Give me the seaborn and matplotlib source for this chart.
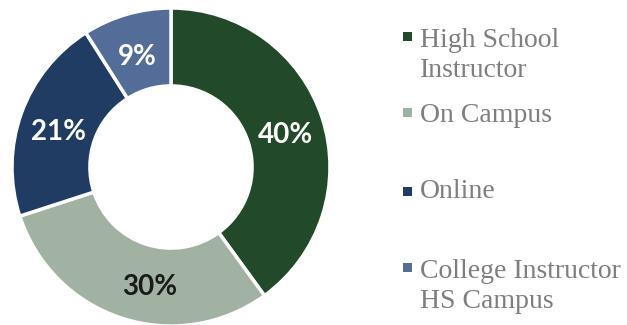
import matplotlib
matplotlib.use("Agg")
import matplotlib.pyplot as plt
from matplotlib.patches import Rectangle
import seaborn as sns

categories = ["High School\nInstructor", "On Campus", "Online", "College Instructor\nHS Campus"]
values = [40, 30, 21, 9]
colors = ["#22492A", "#A1B1A2", "#213C62", "#546C98"]
label_colors = ["white", "#1A1A1A", "white", "white"]

sns.set_theme(style="white")

W, H = 627, 325
fig = plt.figure(figsize=(W / 100, H / 100), dpi=100)
fig.patch.set_facecolor("white")

cx, cy, r = 171, 167, 159
ax = fig.add_axes([(cx - r) / W, (H - cy - r) / H, 2 * r / W, 2 * r / H])
ax.set_facecolor("none")

wedges, texts, autotexts = ax.pie(
    values, colors=colors, startangle=90, counterclock=False,
    radius=1.0, labels=None,
    autopct=lambda p: f"{p:.0f}%", pctdistance=0.755,
    wedgeprops=dict(width=0.49, edgecolor="white", linewidth=2.5),
    textprops=dict(fontsize=20, fontweight="bold", family=["Lato", "DejaVu Sans"]),
)
for i, (t, c) in enumerate(zip(autotexts, label_colors)):
    t.set_color(c)
    x0, y0 = t.get_position()
    dx = 0.1 if i == 1 else 0.0  # "30%" label sits a bit right in the reference
    t.set_position((x0 + dx, y0 - 0.035))
ax.set_xlim(-1.0, 1.0)
ax.set_ylim(-1.0, 1.0)
ax.set_aspect("equal")
ax.axis("off")

# legend (manual, Excel-like spacing); y = baseline of the last line
last_baselines = [77, 122, 198, 308]
marker_tops = [32, 108, 187, 263]
for lab, col, yb, ym in zip(categories, colors, last_baselines, marker_tops):
    fig.add_artist(Rectangle((403 / W, (H - ym - 9) / H), 9 / W, 9 / H,
                             transform=fig.transFigure, facecolor=col, edgecolor="none"))
    fig.text(420 / W, (H - yb) / H, lab, ha="left", va="baseline",
             fontsize=20, color="#7F7F7F", family=["Liberation Serif", "DejaVu Serif"],
             linespacing=1.28)

fig.savefig("out.png", dpi=100, facecolor="white")
